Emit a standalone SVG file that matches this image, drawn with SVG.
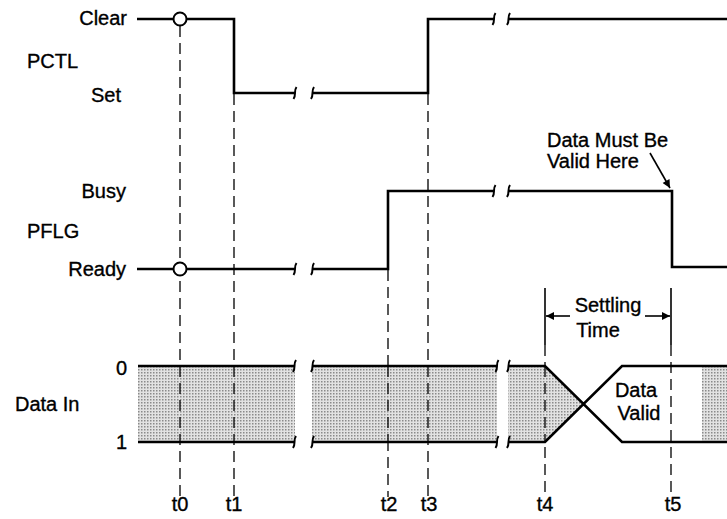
<svg xmlns="http://www.w3.org/2000/svg" width="727" height="519" viewBox="0 0 727 519">
<style>
text{font-family:"Liberation Sans",Arial,sans-serif;font-size:20px;fill:#000;stroke:#000;stroke-width:0.35}
.sig{fill:none;stroke:#000;stroke-width:2.6;stroke-linejoin:miter}
.brk{fill:none;stroke:#000;stroke-width:2}
.dash{fill:none;stroke:#000;stroke-width:1.3;stroke-dasharray:11 6}
.solid{fill:none;stroke:#000;stroke-width:1.6}
.shade{fill:url(#dots);stroke:none}
.mid{text-anchor:middle}
.end{text-anchor:end}
</style>
<defs>
<pattern id="dots" width="3" height="3" patternUnits="userSpaceOnUse">
<rect width="3" height="3" fill="#e2e2e2"/>
<rect width="1.5" height="1.5" fill="#8a8a8a"/>
</pattern>
<marker id="ah" viewBox="0 0 10 10" refX="10" refY="5" markerWidth="10" markerHeight="8" markerUnits="userSpaceOnUse" orient="auto">
<path d="M0 0 L10 5 L0 10 z" fill="#000"/>
</marker>
</defs>

<g id="timing-lines">
<path class="dash" d="M180 26 V497"/>
<path class="dash" d="M234 94 V497"/>
<path class="dash" d="M388 270 V497"/>
<path class="dash" d="M428 94 V497"/>
<path class="solid" d="M545 288 V345"/>
<path class="dash" d="M545 345 V497"/>
<path class="solid" d="M671 288 V345"/>
<path class="dash" d="M671 345 V497"/>
</g>

<g id="pctl">
<text x="127" y="25" class="end">Clear</text>
<text x="27" y="68">PCTL</text>
<text x="121" y="102" class="end">Set</text>
<path class="sig" d="M137 19 H234 V93 H295"/>
<path class="brk" d="M293.5 99 C296.5 95 293.5 91 296.5 87"/>
<path class="sig" d="M312 93 H428 V19 H494"/>
<path class="brk" d="M311 99 C314 95 311 91 314 87"/>
<path class="brk" d="M492.5 25 C495.5 21 492.5 17 495.5 13"/>
<path class="sig" d="M508 19 H727"/>
<path class="brk" d="M507 25 C510 21 507 17 510 13"/>
<circle cx="180" cy="19" r="6.5" fill="#fff" stroke="#000" stroke-width="2"/>
</g>

<g id="pflg">
<text x="126" y="198" class="end">Busy</text>
<text x="27" y="238">PFLG</text>
<text x="126" y="276" class="end">Ready</text>
<path class="sig" d="M137 269 H295"/>
<path class="brk" d="M293.5 275 C296.5 271 293.5 267 296.5 263"/>
<path class="sig" d="M312 269 H388 V191 H494"/>
<path class="brk" d="M311 275 C314 271 311 267 314 263"/>
<path class="brk" d="M492.5 197 C495.5 193 492.5 189 495.5 185"/>
<path class="sig" d="M508 191 H672 V267 H727"/>
<path class="brk" d="M507 197 C510 193 507 189 510 185"/>
<circle cx="180" cy="269" r="6.5" fill="#fff" stroke="#000" stroke-width="2"/>
</g>

<g id="note-valid-here">
<text x="547" y="147">Data Must Be</text>
<text x="547" y="168">Valid Here</text>
<path class="solid" d="M650 153 L670 188" marker-end="url(#ah)"/>
</g>

<g id="settling-time">
<text x="608" y="312" class="mid">Settling</text>
<text x="598" y="337" class="mid">Time</text>
<path class="solid" d="M570 316 H546" marker-end="url(#ah)"/>
<path class="solid" d="M645 316 H670" marker-end="url(#ah)"/>
</g>

<g id="data-in">
<text x="15" y="411">Data In</text>
<text x="127" y="375" class="end">0</text>
<text x="127" y="449" class="end">1</text>
<rect class="shade" x="138" y="366" width="157" height="76"/>
<rect class="shade" x="312" y="366" width="185" height="76"/>
<polygon class="shade" points="508,366 545,366 583.5,404 545,442 508,442"/>
<rect class="shade" x="702" y="366" width="25" height="76"/>
<path class="dash" d="M180 366 V442 M234 366 V442 M388 366 V442 M428 366 V442 M545 366 V442"/>
<path class="sig" d="M138 366 H295 M138 442 H295"/>
<path class="brk" d="M293 372 C296 368 293 364 296 360 M293 448 C296 444 293 440 296 436"/>
<path class="sig" d="M312 366 H497 M312 442 H497"/>
<path class="brk" d="M311 372 C314 368 311 364 314 360 M311 448 C314 444 311 440 314 436"/>
<path class="brk" d="M495.5 372 C498.5 368 495.5 364 498.5 360 M495.5 448 C498.5 444 495.5 440 498.5 436"/>
<path class="sig" d="M508 366 H545 L622 442 H727 M508 442 H545 L622 366 H727"/>
<path class="brk" d="M507 372 C510 368 507 364 510 360 M507 448 C510 444 507 440 510 436"/>
<text x="636" y="397" class="mid">Data</text>
<text x="639" y="420" class="mid">Valid</text>
</g>

<g id="time-labels">
<text x="180" y="511" class="mid">t0</text>
<text x="234" y="511" class="mid">t1</text>
<text x="389" y="511" class="mid">t2</text>
<text x="429" y="511" class="mid">t3</text>
<text x="545" y="511" class="mid">t4</text>
<text x="673" y="511" class="mid">t5</text>
</g>
</svg>
